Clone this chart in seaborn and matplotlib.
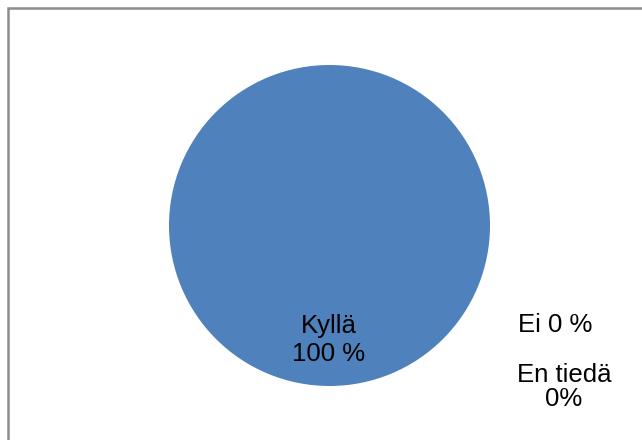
import matplotlib
matplotlib.use("Agg")
import matplotlib.pyplot as plt
import seaborn as sns
from matplotlib.patches import Rectangle

# data
categories = ["Kyllä", "Ei", "En tiedä"]
values = [100, 0, 0]
colors = ["#4F81BD", "#C0504D", "#9BBB59"]

sns.set_theme(style="white")
plt.rcParams['font.family'] = ['Liberation Sans', 'DejaVu Sans']

fig = plt.figure(figsize=(6.42, 4.40), dpi=100)
ax = fig.add_axes([0, 0, 1, 1])

# pie in pixel coordinates
ax.pie(values, colors=colors, startangle=90, counterclock=False,
       center=(329.5, 225.5), radius=160.5,
       wedgeprops=dict(linewidth=0))
ax.set_xlim(0, 642)
ax.set_ylim(440, 0)
ax.set_aspect('equal')
ax.axis('off')

# data labels
total = sum(values)
pct = [v / total * 100 for v in values]
ax.text(329, 340, f"{categories[0]}\n{pct[0]:.0f} %", ha='center', va='center',
        fontsize=18.5, color='black', linespacing=1.17)
ax.text(555, 325, f"{categories[1]} {pct[1]:.0f} %", ha='center', va='center',
        fontsize=18.5, color='black')
ax.text(564, 387, f"{categories[2]}\n{pct[2]:.0f}%", ha='center', va='center',
        fontsize=18.5, color='black', linespacing=1.05)

# chart border
fig.patches.append(Rectangle((8 / 642, -0.1), 1.1, (440 - 8.5) / 440 + 0.1,
                             transform=fig.transFigure, fill=False,
                             edgecolor='#8C8C8C', linewidth=1.8))

fig.savefig("out.png", dpi=100)
